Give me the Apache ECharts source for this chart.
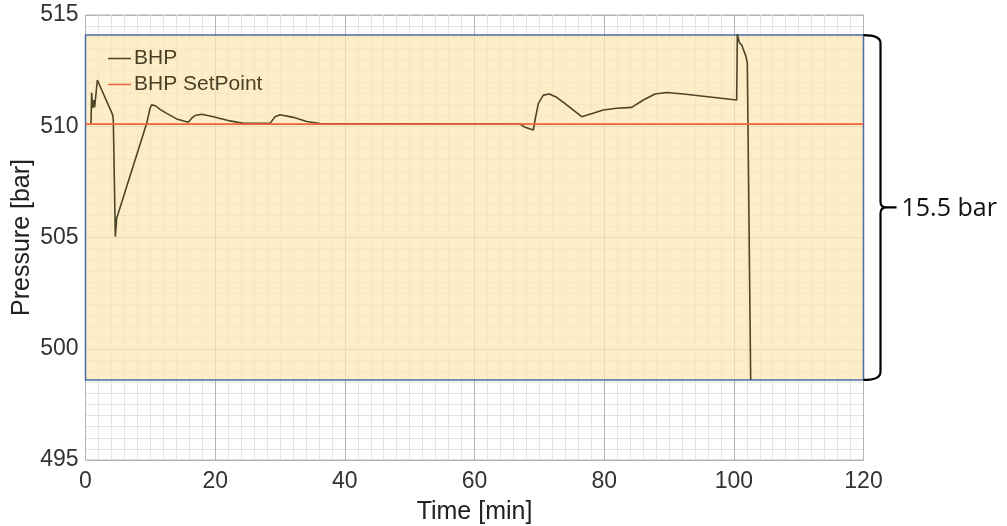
<!DOCTYPE html>
<html>
<head>
<meta charset="utf-8">
<script src="https://cdn.jsdelivr.net/npm/echarts@6/dist/echarts.min.js"></script>
<style>html,body{margin:0;padding:0;background:#fff;}#c{width:1007px;height:526px;}</style>
</head>
<body>
<div id="c"></div>
<script>
// time [min]
const bhpTime = [0.85, 0.95, 1.1, 1.26, 1.41, 1.83, 4.19, 4.29, 4.6, 4.81, 9.44, 9.95, 10.2, 10.46, 10.87, 11.49, 12.52, 14.06, 15.86, 16.38, 16.89, 17.92, 19.72, 22.29, 24.35, 28.46, 29.23, 30.0, 32.06, 34.12, 36.17,
  67.02, 67.79, 69.08, 69.34, 69.85, 70.62, 71.55, 72.68, 74.22, 76.53, 79.88, 81.93, 84.25, 86.04, 87.85, 89.65, 92.22, 100.44, 100.54, 100.85, 101.22, 101.88, 102.08, 102.6];
// BHP [bar]
const bhpValue = [510.13, 511.51, 510.81, 511.18, 510.85, 512.08, 510.51, 510.28, 505.04, 505.86, 510.13, 510.81, 510.96, 510.99, 510.91, 510.76, 510.58, 510.33, 510.18, 510.36, 510.48, 510.54, 510.43, 510.24, 510.13, 510.13, 510.43, 510.52, 510.40, 510.21, 510.12,
  510.1, 509.95, 509.83, 510.28, 511.03, 511.4, 511.45, 511.3, 510.96, 510.43, 510.73, 510.81, 510.85, 511.18, 511.45, 511.52, 511.45, 511.18, 514.15, 513.76, 513.65, 513.13, 512.83, 498.6];
const setPointTime = [0, 120];
const setPointValue = [510.1, 510.1];
const bandTop = 514.1;
const bandBottom = 498.6;
const bandLabel = '15.5 bar';
const xTicks = [0, 20, 40, 60, 80, 100, 120];
const yTicks = [495, 500, 505, 510, 515];

const bhpData = bhpTime.map((t, i) => [t, bhpValue[i]]);
const spData = setPointTime.map((t, i) => [t, setPointValue[i]]);

const chart = echarts.init(document.getElementById('c'), null, {renderer: 'canvas'});
const font = "'Liberation Sans', Arial, sans-serif";
chart.setOption({
  animation: false,
  grid: {left: 85.5, top: 15, width: 778, height: 445, show: true, borderColor: '#b4b4b4', borderWidth: 1,
    backgroundColor: 'transparent', containLabel: false, outerBoundsMode: 'none'},
  legend: {
    data: ['BHP', 'BHP SetPoint'],
    orient: 'vertical', left: 108, top: 48, itemGap: 5, padding: 0,
    itemWidth: 23, itemHeight: 1.5, icon: 'rect',
    textStyle: {fontFamily: font, fontSize: 21, color: '#4a4226', padding: [0, 0, 0, -2]}
  },
  xAxis: {
    type: 'value', min: xTicks[0], max: xTicks[xTicks.length - 1], interval: 20,
    name: 'Time [min]', nameLocation: 'middle', nameGap: 40,
    nameTextStyle: {fontFamily: font, fontSize: 25, color: '#222'},
    axisLine: {show: false}, axisTick: {show: false},
    axisLabel: {fontFamily: font, fontSize: 23, color: '#333', margin: 10},
    splitLine: {show: true, lineStyle: {color: '#b4b4b4', width: 1}},
    minorTick: {show: false, splitNumber: 10},
    minorSplitLine: {show: true, lineStyle: {color: '#e4e4e4', width: 1}}
  },
  yAxis: {
    type: 'value', min: yTicks[0], max: yTicks[yTicks.length - 1], interval: 5,
    name: 'Pressure [bar]', nameLocation: 'middle', nameGap: 51, nameMoveOverlap: false,
    nameTextStyle: {fontFamily: font, fontSize: 25, color: '#222'},
    axisLine: {show: false}, axisTick: {show: false},
    axisLabel: {fontFamily: font, fontSize: 23, color: '#333', margin: 7},
    splitLine: {show: true, lineStyle: {color: '#b4b4b4', width: 1}},
    minorTick: {show: false, splitNumber: 10},
    minorSplitLine: {show: true, lineStyle: {color: '#e4e4e4', width: 1}}
  },
  series: [
    {
      name: 'Band', type: 'line', data: spData, symbol: 'none', silent: true, z: 1,
      lineStyle: {opacity: 0},
      markArea: {
        silent: true,
        itemStyle: {color: 'rgba(252,232,180,0.75)', borderColor: '#4a6aa8', borderWidth: 1.5},
        data: [[{coord: [setPointTime[0], bandTop]}, {coord: [setPointTime[1], bandBottom]}]]
      }
    },
    {
      name: 'BHP', type: 'line', data: bhpData, symbol: 'none', z: 3,
      color: '#4d4528',
      lineStyle: {color: '#4d4528', width: 1.6}
    },
    {
      name: 'BHP SetPoint', type: 'line', data: spData, symbol: 'none', z: 4,
      color: '#f0603c',
      lineStyle: {color: '#f0603c', width: 1.8}
    },
    {
      name: 'Bracket', type: 'custom', z: 5, clip: false, silent: true,
      data: [[setPointTime[1], bandTop, bandBottom]],
      renderItem: function (params, api) {
        const top = api.coord([api.value(0), api.value(1)]);
        const bot = api.coord([api.value(0), api.value(2)]);
        const x0 = top[0];
        const xv = x0 + 17;
        const xt = x0 + 33;
        const ym = (top[1] + bot[1]) / 2;
        const p = 'M' + x0 + ',' + top[1] +
          ' Q' + xv + ',' + top[1] + ' ' + xv + ',' + (top[1] + 8) +
          ' L' + xv + ',' + (ym - 6) +
          ' Q' + xv + ',' + ym + ' ' + (xv + 6) + ',' + ym +
          ' L' + xt + ',' + ym +
          ' M' + (xv + 6) + ',' + ym +
          ' Q' + xv + ',' + ym + ' ' + xv + ',' + (ym + 6) +
          ' L' + xv + ',' + (bot[1] - 8) +
          ' Q' + xv + ',' + bot[1] + ' ' + x0 + ',' + bot[1];
        return {
          type: 'group',
          children: [
            {type: 'path', shape: {pathData: p}, style: {stroke: '#000', lineWidth: 2.2, fill: null}},
            {type: 'text', style: {text: bandLabel, x: xt + 5, y: ym + 1, verticalAlign: 'middle', align: 'left',
              font: "25px 'Open Sans', sans-serif", fill: '#111'}}
          ]
        };
      }
    }
  ]
});
</script>
</body>
</html>
